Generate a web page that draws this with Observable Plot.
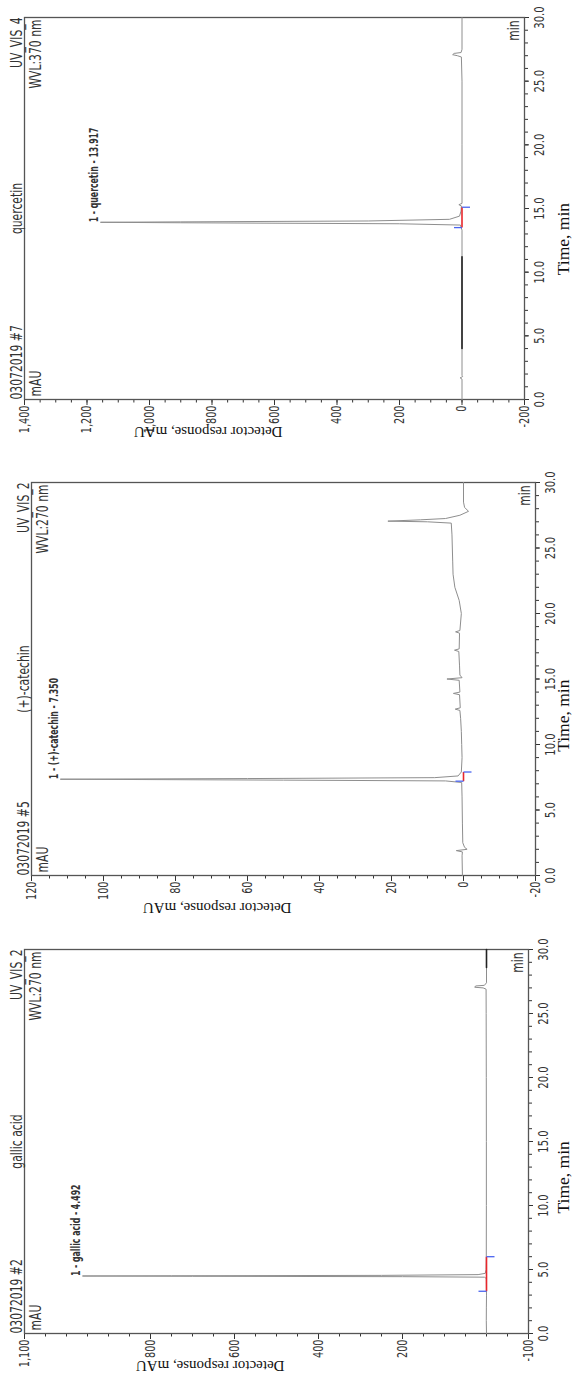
<!DOCTYPE html>
<html><head><meta charset="utf-8">
<script src="https://cdn.jsdelivr.net/npm/d3@7"></script>
<script src="https://cdn.jsdelivr.net/npm/@observablehq/plot@0.6"></script>
<style>
html,body{margin:0;padding:0;background:#fff;}
body{width:574px;height:1373px;overflow:hidden;position:relative;}
#fig{position:absolute;left:0;top:0;width:1373px;height:574px;transform-origin:0 0;transform:translate(0,1373px) rotate(-90deg);}
.panel{position:absolute;top:0;}
</style></head><body><div id="fig"></div>
<script>
// ---- data ----
const compounds = ["gallic acid", "(+)-catechin", "quercetin"];
const sampleIds = ["03072019 #2", "03072019 #5", "03072019 #7"];
const channels = ["UV_VIS_2", "UV_VIS_2", "UV_VIS_4"];
const wavelengths = ["WVL:270 nm", "WVL:270 nm", "WVL:370 nm"];
const peakLabels = ["1 - gallic acid - 4.492", "1 - (+)-catechin - 7.350", "1 - quercetin - 13.917"];
const peakTimes = [4.492, 7.350, 13.917];
const peakHeights = [962, 112, 1157];
const integStart = [3.3, 7.2, 13.5];
const integEnd = [6.0, 7.9, 15.1];
const yDomains = [[-100, 1100], [-20, 120], [-200, 1400]];
const yTickLabels = [
  [-100, 200, 400, 600, 800, 1100],
  [-20, 0, 20, 40, 60, 80, 100, 120],
  [-200, 0, 200, 400, 600, 800, 1000, 1200, 1400]
];
const yMinorSteps = [50, 5, 50];
const timeTicks = [0, 5, 10, 15, 20, 25, 30];
const timeMinorTicks = [0,1,2,3,4,5,6,7,8,9,10,11,12,13,14,15,16,17,18,19,20,21,22,23,24,25,26,27,28,29,30];
const xAxisTitle = "Time, min";
const yAxisTitle = "Detector response, mAU";

const gallicTrace = [
  [0,0],[1,0.5],[2,0.3],[3,0],[4.3,0.5],[4.40,5],[4.44,200],[4.47,700],[4.492,962],[4.51,750],
  [4.54,250],[4.60,20],[4.70,3],[5.0,1],[6,0.5],[10,0.3],[15,0.3],[20,0.5],[25,0.8],[26.9,1],
  [27.0,8],[27.05,28],[27.15,26],[27.2,5],[27.4,0],[30,0]
];
const gallicDark = [[28.6,0],[30,0]];
const catechinTrace = [
  [0,0.3],[1.5,0.4],[1.8,0.3],[1.9,2.0],[2.0,-1.0],[2.15,-0.3],[2.5,0.2],[4,0.3],[6,0.4],[7.1,0.5],
  [7.22,5],[7.28,50],[7.35,112],[7.40,60],[7.47,8],[7.6,1.5],[7.9,0.6],[9,0.4],[10,0.5],[11,0.6],
  [12,0.8],[12.6,1.0],[12.7,2.3],[12.8,0.9],[13.8,1.1],[13.9,2.8],[14.0,1.0],[14.9,1.2],[15.0,4.6],
  [15.1,0.4],[15.3,1.0],[16,1.1],[17.1,1.3],[17.2,2.5],[17.3,1.2],[18.5,1.1],[18.6,2.2],[18.7,1.0],
  [20,0.6],[21,1.2],[22,2.4],[23,2.9],[24,3.0],[25,3.1],[26,3.2],[26.9,3.4],[27.0,10],[27.05,21],
  [27.15,12],[27.25,5],[27.5,1],[27.8,-1.4],[28.1,-0.3],[28.5,0],[30,0]
];
const catechinDark = [];
const quercetinTrace = [
  [0,0],[1.6,0],[1.7,6],[1.8,-2],[1.9,0],[5,0],[10,0],[13.3,0],[13.7,5],[13.8,200],[13.88,900],
  [13.917,1157],[13.95,900],[14.02,300],[14.15,40],[14.4,8],[14.8,3],[15.2,2],[15.3,10],[15.4,0],
  [20,0],[25,0],[26.9,2],[27.0,15],[27.08,30],[27.18,25],[27.25,3],[27.5,0],[30,0]
];
const quercetinDark = [[4.0,0],[11.2,0]];

const traces = [gallicTrace, catechinTrace, quercetinTrace];
const darkSegments = [gallicDark, catechinDark, quercetinDark];
const titleTimes = [12.2, 12.2, 12.6];

// ---- layout (original, unrotated figure coordinates) ----
const layout = [
  {x0: 39, x1: 423, yTop: 24, yBot: 528},
  {x0: 497, x1: 890, yTop: 31, yBot: 535},
  {x0: 973, x1: 1355, yTop: 24, yBot: 524}
];
const narrow = `"Liberation Sans Narrow","Arial Narrow","DejaVu Sans Condensed",sans-serif`;
const serif = `"Liberation Serif","Times New Roman",serif`;
const fmt = d => d.toLocaleString("en-US");

function makePanel(i) {
  const L = layout[i];
  const ML = 45, MR = 14, H = 574;
  const [ya, yb] = yDomains[i];
  const tickLen = 8 * (yb - ya) / (L.yBot - L.yTop);
  const minor = d3.range(ya, yb + 1e-9, yMinorSteps[i]);
  const P = peakTimes[i];
  const plot = Plot.plot({
    width: ML + (L.x1 - L.x0) + MR,
    height: H,
    marginLeft: ML, marginRight: MR, marginTop: L.yTop, marginBottom: H - L.yBot,
    x: {domain: [0, 30]},
    y: {domain: yDomains[i]},
    style: {fontFamily: narrow, fontSize: "13px", color: "#333", background: "transparent", overflow: "visible"},
    marks: [
      Plot.axisX(timeMinorTicks, {tickSize: 4, text: null, stroke: "#333", label: null}),
      Plot.axisX(timeTicks, {tickSize: 5, tickPadding: 5, tickFormat: d => d.toFixed(1), fontSize: 14, label: null, stroke: "#333", className: "cond"}),
      Plot.axisY(minor, {tickSize: 2.5, text: null, stroke: "#333", label: null}),
      Plot.axisY(yTickLabels[i], {tickSize: 5, tickPadding: 1, tickFormat: fmt, fontSize: 13.5, label: null, stroke: "#333", className: "cond"}),
      Plot.frame({stroke: "#555", strokeWidth: 1.3}),
      Plot.line(traces[i], {x: d => d[0], y: d => d[1], stroke: "#8e8e8e", strokeWidth: 1}),
      Plot.line(darkSegments[i], {x: d => d[0], y: d => d[1], stroke: "#222", strokeWidth: 1.6}),
      Plot.link([0], {x1: () => integStart[i], x2: () => integEnd[i], y1: () => 0, y2: () => 0, stroke: "#e8262b", strokeWidth: 1.6}),
      Plot.link([0], {x1: () => integStart[i], x2: () => integStart[i], y1: () => 0, y2: () => tickLen, stroke: "#4a64f0", strokeWidth: 1.3}),
      Plot.link([0], {x1: () => integEnd[i], x2: () => integEnd[i], y1: () => 0, y2: () => -tickLen, stroke: "#4a64f0", strokeWidth: 1.3}),
      Plot.text([peakLabels[i]], {x: () => P, y: () => peakHeights[i], text: d => d, textAnchor: "start", lineAnchor: "bottom", dy: -2, fontSize: 12, fontWeight: "bold", fill: "#333", className: "condpeak"}),
      Plot.text([sampleIds[i]], {frameAnchor: "top-left", text: d => d, textAnchor: "start", lineAnchor: "bottom", dy: -3, fontSize: 15, fill: "#333", className: "cond"}),
      Plot.text([compounds[i]], {frameAnchor: "top", text: d => d, lineAnchor: "bottom", dy: -3, fontSize: 15, fill: "#333", className: "cond"}),
      Plot.text([channels[i]], {frameAnchor: "top-right", text: d => d, textAnchor: "end", lineAnchor: "bottom", dy: -3, fontSize: 15, fill: "#333", className: "cond"}),
      Plot.text([wavelengths[i]], {frameAnchor: "top-right", text: d => d, textAnchor: "end", lineAnchor: "top", dx: -2, dy: 6, fontSize: 15, fill: "#333", className: "cond"}),
      Plot.text(["mAU"], {frameAnchor: "top-left", text: d => d, textAnchor: "start", lineAnchor: "top", dx: 3, dy: 6, fontSize: 15, fill: "#333", className: "cond"}),
      Plot.text(["min"], {frameAnchor: "bottom-right", text: d => d, textAnchor: "end", lineAnchor: "bottom", dx: -3, dy: -6, fontSize: 15, fill: "#333", className: "cond"}),
      Plot.text([yAxisTitle], {frameAnchor: "left", text: d => d, rotate: -90, lineAnchor: "bottom", dx: -27, dy: 8, fontFamily: serif, fontSize: 15, fill: "#111"}),
      Plot.text([{t: titleTimes[i], s: xAxisTitle}], {x: "t", text: "s", frameAnchor: "bottom", lineAnchor: "bottom", dy: 568 - L.yBot, fontFamily: serif, fontSize: 17.5, fill: "#111"})
    ]
  });
  plot.classList.add("panel");
  plot.style.left = (L.x0 - ML) + "px";
  return plot;
}

// condense the chromatography-software texts (narrow, tall glyphs)
function condense(svg, cls, k) {
  svg.querySelectorAll(`g.${cls} text`).forEach(t => {
    const len = t.getComputedTextLength();
    if (len > 0) {
      t.setAttribute("textLength", (len * k).toFixed(2));
      t.setAttribute("lengthAdjust", "spacingAndGlyphs");
    }
  });
}

const fig = document.getElementById("fig");
for (let i = 0; i < 3; i++) {
  const p = makePanel(i);
  fig.appendChild(p);
  condense(p, "cond", 0.8);
  condense(p, "condpeak", 0.72);
}
</script></body></html>
